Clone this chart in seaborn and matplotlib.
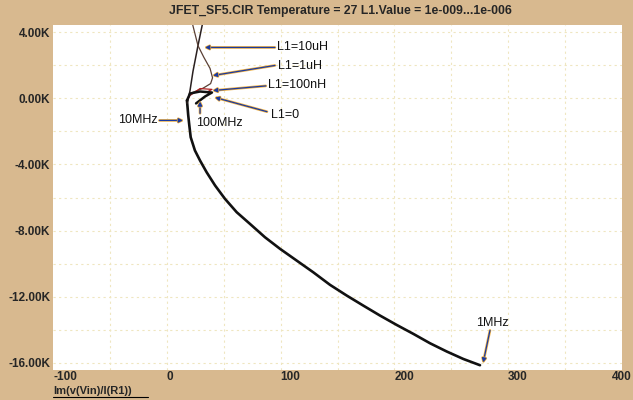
import numpy as np
import pandas as pd
import matplotlib.pyplot as plt
import matplotlib.patheffects as pe
from matplotlib.lines import Line2D
import seaborn as sns

# data (x in ohms, y in ohms), 1MHz end first
main_x = [275.2, 260.5, 246.0, 231.3, 216.6, 202.0, 187.3, 172.7, 158.1, 143.4, 128.7,
          114.1, 99.5, 86.3, 73.1, 61.4, 51.1, 42.4, 35.0, 29.2, 24.7, 21.0, 19.8,
          18.8, 18.2, 17.7]
main_y = [-16160, -15780, -15330, -14830, -14260, -13720, -13150, -12550, -11940, -11290,
          -10530, -9820, -9110, -8410, -7600, -6890, -6080, -5270, -4470, -3760, -3150,
          -2350, -1640, -1000, -500, -120]

l10u_x = [17.7, 18.6, 20.4, 23.0, 27.4, 31.8, 33.5]
l10u_y = [-300, -120, 480, 1640, 3200, 4670, 5200]

l1u_x = [17.7, 20.4, 31.8, 38.5, 40.2, 38.0, 32.5, 27.4, 22.0, 20.5]
l1u_y = [-120, 300, 620, 900, 1250, 1820, 2500, 3200, 4670, 5200]

l100n_x = [17.7, 20.4, 29.2, 39.7, 34.5]
l100n_y = [-120, 180, 600, 550, 360]

l0_x = [17.7, 20.4, 29.2, 39.7, 33.6, 25.7]
l0_y = [-120, 300, 420, 360, 120, -300]

xticks = [-100, 0, 100, 200, 300, 400]
yticks = [4000, 0, -4000, -8000, -12000, -16000]
ytick_labels = ['4.00K', '0.00K', '-4.00K', '-8.00K', '-12.00K', '-16.00K']

title = 'JFET_SF5.CIR Temperature = 27 L1.Value = 1e-009...1e-006'
xlabel = 'Im(v(Vin)/I(R1))'

bg = '#d8b98f'
sns.set_style('white')
plt.rcParams['font.family'] = ['Liberation Sans', 'DejaVu Sans']

fig = plt.figure(figsize=(6.33, 4.0), dpi=100, facecolor=bg)
ax = fig.add_axes([53 / 633, 1 - 370 / 400, 569 / 633, 345 / 400])
ax.set_facecolor('white')

# faint dotted grid
for gx in np.arange(-50, 400, 50):
    ax.axvline(gx, color='#efe6c0', lw=0.8, ls=(0, (2, 3)), zorder=0)
for gy in np.arange(-16000, 4001, 2000):
    ax.axhline(gy, color='#efe6c0', lw=0.8, ls=(0, (2, 3)), zorder=0)

sns.lineplot(x=main_x, y=main_y, sort=False, estimator=None, color='#111111', lw=1.9, ax=ax)
sns.lineplot(x=l10u_x, y=l10u_y, sort=False, estimator=None, color='#2a2020', lw=1.1, ax=ax)
sns.lineplot(x=l1u_x, y=l1u_y, sort=False, estimator=None, color='#5a4035', lw=0.9, ax=ax)
sns.lineplot(x=l100n_x, y=l100n_y, sort=False, estimator=None, color='#b02020', lw=0.9, ax=ax)
sns.lineplot(x=l0_x, y=l0_y, sort=False, estimator=None, color='#111111', lw=1.8, ax=ax)

ax.set_xlim(-100, 400)
ax.set_ylim(-16450, 4450)
for s in ax.spines.values():
    s.set_visible(False)

ax.set_xticks(xticks)
ax.set_xticklabels([str(t) for t in xticks], fontsize=8.5, fontweight='bold')
for i, lab in enumerate(ax.get_xticklabels()):
    lab.set_ha('center' if i == len(xticks) - 1 else 'left')
ax.set_yticks(yticks)
ax.set_yticklabels(ytick_labels, fontsize=8.5, fontweight='bold')
ax.tick_params(length=0, pad=2)
ax.tick_params(axis='x', pad=1)

fig.text(340 / 633, 1 - 11 / 400, title, ha='center', va='center',
         fontsize=8.8, fontweight='bold')
fig.text(53 / 633, 1 - 391 / 400, xlabel, ha='left', va='center',
         fontsize=8, fontweight='bold')
fig.add_artist(Line2D([53 / 633, 148 / 633], [1 - 397 / 400] * 2, color='black', lw=0.8))

arrow_kw = dict(arrowstyle='-|>', color='#1a3aa0', lw=0.9, mutation_scale=6,
                shrinkA=0, shrinkB=0,
                path_effects=[pe.withStroke(linewidth=1.9, foreground='#f0b040')])


def note(text, xy, start, pos, ha='left', va='center'):
    ax.annotate('', xy=xy, xytext=start, arrowprops=arrow_kw)
    ax.text(pos[0], pos[1], text, ha=ha, va=va, fontsize=9, color='#111111')


note('L1=10uH', (33.6, 3090), (95, 3090), (97, 3090))
note('L1=1uH', (40.6, 1390), (95, 2000), (98, 1940))
note('L1=100nH', (40.6, 480), (87, 760), (89, 790))
note('L1=0', (42.4, 60), (88, -800), (91.6, -1030))
note('10MHz', (14.2, -1330), (-6.5, -1330), (-7.7, -1330), ha='right')
note('100MHz', (29.2, -180), (29.2, -900), (25.5, -1500))
note('1MHz', (278, -16000), (284, -14050), (285.8, -13600), ha='center')

fig.savefig('out.png', dpi=100, facecolor=bg)
